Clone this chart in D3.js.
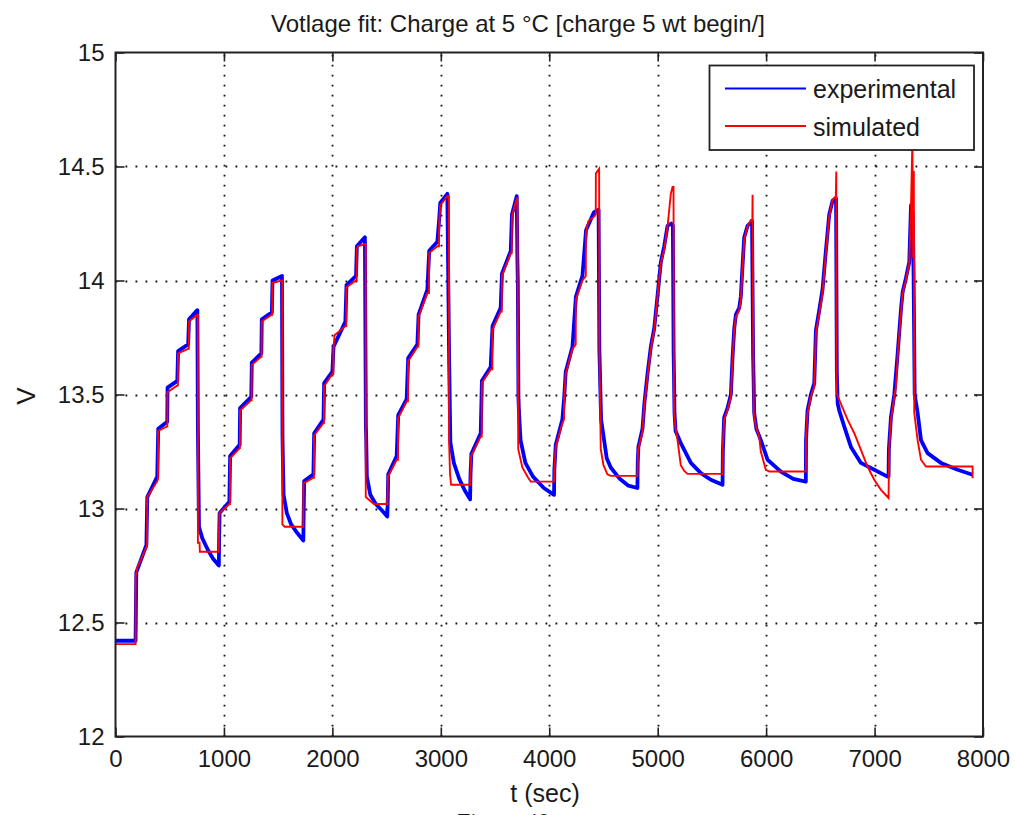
<!DOCTYPE html>
<html>
<head>
<meta charset="utf-8">
<script src="https://cdn.jsdelivr.net/npm/d3@7"></script>
<style>
  html, body { margin: 0; padding: 0; background: #fff; }
  svg { display: block; }
  text { font-family: "Liberation Sans", Arial, Helvetica, sans-serif; fill: #1a1a1a; }
</style>
</head>
<body>
<svg id="chart" width="1015" height="815"></svg>
<script>
// Battery voltage during ten charge pulses: measured vs. model output.
const titleText = "Votlage fit: Charge at 5 °C [charge 5 wt begin/]";
const xLabel = "t (sec)";
const yLabel = "V";
const seriesNames = ["experimental", "simulated"];
const seriesColors = ["#0000ff", "#ff0000"];
const xTicks = [0, 1000, 2000, 3000, 4000, 5000, 6000, 7000, 8000];
const yTicks = [12, 12.5, 13, 13.5, 14, 14.5, 15];

// Measured terminal voltage [t (s), V]
const experimental = [
  [0,12.42],[185,12.42],[188,12.55],[192,12.72],[285,12.84],[293,13.05],[385,13.14],[394,13.35],[477,13.38],[480,13.53],
  [570,13.56],[577,13.69],[670,13.72],[678,13.83],[755,13.87],[760,13.34],[763,13.21],[770,12.92],[800,12.87],[850,12.82],
  [900,12.78],[953,12.75],
  [956,12.88],[960,12.98],[1050,13.03],[1057,13.23],[1145,13.28],[1149,13.44],[1252,13.49],[1257,13.64],[1345,13.68],
  [1349,13.83],[1442,13.86],[1448,14.0],[1535,14.02],[1540,13.32],[1543,13.23],[1550,13.06],[1580,12.98],[1620,12.93],
  [1680,12.89],[1732,12.86],
  [1736,13.0],[1740,13.12],[1825,13.15],[1832,13.33],[1918,13.39],[1924,13.55],[2000,13.60],[2011,13.71],[2120,13.82],
  [2130,13.98],[2218,14.02],[2226,14.15],[2300,14.19],[2309,13.36],[2312,13.31],[2318,13.14],[2350,13.06],[2400,13.02],
  [2460,12.99],[2506,12.965],
  [2510,13.02],[2515,13.15],[2593,13.23],[2607,13.41],[2685,13.48],[2699,13.66],[2784,13.72],[2795,13.85],[2876,13.96],
  [2893,14.13],[2968,14.17],[2985,14.27],[2995,14.34],[3060,14.38],[3077,13.64],[3080,13.55],[3088,13.29],[3120,13.20],
  [3170,13.13],[3220,13.08],[3270,13.04],
  [3274,13.15],[3282,13.24],[3368,13.33],[3379,13.56],[3460,13.62],[3477,13.80],[3552,13.88],[3564,14.03],[3645,14.13],
  [3656,14.29],[3700,14.37],[3706,14.10],[3710,14.0],[3716,13.49],[3720,13.43],[3735,13.30],[3780,13.20],[3850,13.14],
  [3950,13.09],[4044,13.06],
  [4047,13.17],[4060,13.28],[4121,13.39],[4138,13.49],[4152,13.60],[4214,13.71],[4246,13.93],[4306,14.02],[4339,14.22],
  [4413,14.30],[4455,14.31],[4462,13.70],[4467,13.61],[4478,13.39],[4530,13.22],[4567,13.18],[4650,13.13],[4730,13.10],
  [4813,13.09],
  [4816,13.20],[4822,13.27],[4860,13.35],[4877,13.46],[4906,13.59],[4937,13.71],[4968,13.79],[5000,13.94],[5029,14.08],
  [5060,14.15],[5091,14.24],[5125,14.25],[5140,14.24],[5147,13.68],[5150,13.60],[5155,13.42],[5165,13.34],[5213,13.287],
  [5306,13.20],[5398,13.155],[5490,13.126],[5598,13.104],
  [5601,13.25],[5613,13.40],[5644,13.44],[5675,13.50],[5690,13.66],[5706,13.79],[5721,13.85],[5752,13.88],[5767,13.93],
  [5783,14.07],[5798,14.19],[5829,14.24],[5870,14.26],[5880,13.67],[5884,13.58],[5890,13.42],[5910,13.35],[5951,13.30],
  [6013,13.214],[6136,13.162],[6250,13.13],[6366,13.118],
  [6368,13.30],[6382,13.43],[6413,13.50],[6444,13.55],[6459,13.78],[6490,13.87],[6520,13.96],[6551,14.13],[6582,14.29],
  [6613,14.35],[6645,14.36],[6652,13.60],[6660,13.46],[6674,13.43],[6720,13.36],[6782,13.27],[6874,13.20],[6997,13.17],
  [7120,13.14],[7129,13.14],
  [7132,13.26],[7151,13.40],[7182,13.50],[7213,13.68],[7243,13.87],[7259,13.95],[7289,14.01],[7320,14.08],[7336,14.33],
  [7352,14.30],[7360,14.02],[7370,13.50],[7397,13.42],[7428,13.30],[7489,13.243],[7612,13.20],[7766,13.17],[7904,13.148]
];

// Model voltage [t (s), V]
const simulated = [
  [0,12.405],[185,12.405],[186,12.70],[200,12.74],[285,12.83],[291,12.84],[292,13.05],[385,13.12],[392,13.13],[393,13.34],
  [475,13.36],[478,13.36],[479,13.51],[570,13.54],[575,13.54],[576,13.68],[670,13.70],[676,13.70],[677,13.82],[755,13.85],
  [759,13.85],[760,12.85],[775,12.85],[778,12.81],[953,12.81],
  [958,12.98],[1050,13.02],[1055,13.02],[1056,13.22],[1145,13.265],[1147,13.265],[1148,13.43],[1250,13.475],[1255,13.475],
  [1256,13.63],[1342,13.665],[1347,13.665],[1348,13.82],[1440,13.85],[1446,13.85],[1447,13.99],[1535,14.0],[1538,14.0],
  [1539,12.93],[1560,12.92],[1732,12.92],
  [1733,13.11],[1825,13.135],[1830,13.135],[1831,13.32],[1918,13.375],[1922,13.375],[1923,13.535],[2000,13.59],[2009,13.59],
  [2010,13.70],[2020,13.76],[2120,13.80],[2128,13.80],[2129,13.97],[2218,14.0],[2224,14.0],[2225,14.135],[2235,14.15],
  [2300,14.16],[2307,14.16],[2308,13.05],[2383,13.02],[2506,13.02],
  [2513,13.14],[2593,13.214],[2605,13.214],[2606,13.396],[2685,13.47],[2697,13.47],[2698,13.645],[2784,13.71],[2793,13.71],
  [2794,13.84],[2876,13.945],[2891,13.945],[2892,14.12],[2968,14.15],[2983,14.15],[2985,14.25],[2995,14.33],[3060,14.37],
  [3075,14.37],[3076,13.30],[3085,13.15],[3095,13.104],[3270,13.104],
  [3280,13.23],[3368,13.316],[3377,13.316],[3378,13.55],[3460,13.61],[3475,13.61],[3476,13.784],[3552,13.864],[3562,13.864],
  [3563,14.02],[3645,14.12],[3654,14.12],[3655,14.28],[3700,14.36],[3706,14.36],[3708,14.03],[3714,13.26],[3752,13.18],
  [3799,13.14],[3829,13.118],[4044,13.118],
  [4050,13.20],[4060,13.27],[4121,13.375],[4136,13.39],[4137,13.48],[4152,13.59],[4214,13.70],[4244,13.72],[4245,13.915],
  [4306,14.0],[4337,14.02],[4338,14.21],[4360,14.26],[4413,14.28],[4429,14.29],[4430,14.47],[4460,14.49],[4462,13.70],
  [4475,13.26],[4500,13.19],[4536,13.15],[4567,13.143],[4813,13.143],
  [4819,13.257],[4860,13.338],[4875,13.447],[4906,13.58],[4937,13.70],[4968,13.784],[4998,13.93],[5029,14.076],[5060,14.135],
  [5091,14.237],[5121,14.38],[5137,14.41],[5146,14.41],[5150,13.42],[5165,13.35],[5183,13.30],[5213,13.19],[5245,13.165],
  [5275,13.152],[5598,13.152],
  [5600,13.27],[5613,13.39],[5644,13.433],[5675,13.49],[5690,13.652],[5706,13.784],[5721,13.84],[5752,13.87],[5767,13.915],
  [5783,14.06],[5798,14.18],[5829,14.237],[5859,14.266],[5873,14.27],[5875,14.376],[5878,14.02],[5882,13.65],[5886,13.42],
  [5905,13.36],[5936,13.316],[5951,13.25],[5997,13.17],[6030,13.162],[6366,13.162],
  [6368,13.316],[6382,13.418],[6413,13.49],[6444,13.535],[6459,13.77],[6490,13.857],[6520,13.945],[6551,14.12],[6582,14.28],
  [6613,14.354],[6643,14.37],[6647,14.478],[6649,13.506],[6689,13.46],[6751,13.39],[6813,13.33],[6874,13.257],[6935,13.184],
  [6997,13.126],[7059,13.082],[7129,13.046],
  [7135,13.27],[7151,13.39],[7182,13.49],[7197,13.535],[7213,13.667],[7243,13.857],[7259,13.945],[7289,14.0],[7320,14.076],
  [7336,14.32],[7349,14.62],[7356,14.10],[7362,14.48],[7366,13.42],[7397,13.30],[7428,13.214],[7474,13.184],[7904,13.184],
  [7904,13.133]
];

const svg = d3.select("#chart");
const plot = { left: 115.5, right: 983, top: 52.5, bottom: 736.5 };

const x = d3.scaleLinear().domain([0, 8000]).range([plot.left, plot.right]);
const y = d3.scaleLinear().domain([12, 15]).range([plot.bottom, plot.top]);

const FONT = 24;
const TICK = 9;

// dotted grid
const grid = svg.append("g").attr("stroke", "#111").attr("stroke-width", 1.8)
  .attr("stroke-dasharray", "1.8,8.2").attr("fill", "none");
grid.selectAll("line.gx").data(xTicks.slice(1, -1)).join("line")
  .attr("x1", d => Math.round(x(d)) + 0.5).attr("x2", d => Math.round(x(d)) + 0.5)
  .attr("y1", plot.bottom).attr("y2", plot.top);
grid.selectAll("line.gy").data(yTicks.slice(1, -1)).join("line")
  .attr("y1", d => Math.round(y(d)) + 0.5).attr("y2", d => Math.round(y(d)) + 0.5)
  .attr("x1", plot.left).attr("x2", plot.right);

// series
const line = d3.line().x(d => x(d[0])).y(d => y(d[1]));
svg.append("clipPath").attr("id", "plotclip").append("rect")
  .attr("x", plot.left).attr("y", plot.top)
  .attr("width", plot.right - plot.left).attr("height", plot.bottom - plot.top);

const series = svg.append("g").attr("clip-path", "url(#plotclip)");
series.append("path").datum(experimental)
  .attr("d", line).attr("fill", "none")
  .attr("stroke", seriesColors[0]).attr("stroke-width", 3.8).attr("stroke-linejoin", "round");
series.append("path").datum(simulated)
  .attr("d", line).attr("fill", "none")
  .attr("stroke", seriesColors[1]).attr("stroke-width", 1.9).attr("stroke-linejoin", "miter");

// axes (ticks point inward on all four sides)
const axisStyle = g => {
  g.select(".domain").remove();
  g.selectAll(".tick line").attr("stroke", "#222").attr("stroke-width", 1.6);
  g.selectAll(".tick text").attr("fill", "#1a1a1a").style("font-size", FONT + "px")
    .style("font-family", "'Liberation Sans', Arial, sans-serif");
};

svg.append("g").attr("transform", `translate(0,${plot.bottom})`)
  .call(d3.axisBottom(x).tickValues(xTicks).tickFormat(d3.format("d"))
    .tickSize(-TICK).tickSizeOuter(0).tickPadding(13))
  .call(axisStyle);
svg.append("g").attr("transform", `translate(0,${plot.top})`)
  .call(d3.axisTop(x).tickValues(xTicks).tickFormat("").tickSize(-TICK).tickSizeOuter(0))
  .call(axisStyle);
svg.append("g").attr("transform", `translate(${plot.left},0)`)
  .call(d3.axisLeft(y).tickValues(yTicks).tickFormat(d => d3.format("")(d))
    .tickSize(-TICK).tickSizeOuter(0).tickPadding(11))
  .call(axisStyle);
svg.append("g").attr("transform", `translate(${plot.right},0)`)
  .call(d3.axisRight(y).tickValues(yTicks).tickFormat("").tickSize(-TICK).tickSizeOuter(0))
  .call(axisStyle);

// frame
svg.append("rect")
  .attr("x", plot.left).attr("y", plot.top)
  .attr("width", plot.right - plot.left).attr("height", plot.bottom - plot.top)
  .attr("fill", "none").attr("stroke", "#222").attr("stroke-width", 2);

// title and axis labels
svg.append("text").attr("x", 518).attr("y", 31.5).attr("text-anchor", "middle")
  .style("font-size", FONT + "px").text(titleText);
svg.append("text").attr("x", 545).attr("y", 802).attr("text-anchor", "middle")
  .style("font-size", (FONT + 1) + "px").text(xLabel);
svg.append("text").attr("transform", "translate(35,396) rotate(-90)").attr("text-anchor", "middle")
  .style("font-size", (FONT + 2) + "px").text(yLabel);

// caption under the figure (runs off the bottom edge)
svg.append("text").attr("x", 457).attr("y", 829)
  .style("font-family", "'Liberation Serif', 'Times New Roman', serif")
  .style("font-size", "24px").text("Figure 40");

// legend
const lg = svg.append("g");
lg.append("rect").attr("x", 709.5).attr("y", 65.5).attr("width", 264.5).attr("height", 84.5)
  .attr("fill", "#fff").attr("stroke", "#222").attr("stroke-width", 1.8);
const legendRows = [88.5, 126];
seriesNames.forEach((name, i) => {
  lg.append("line").attr("x1", 725).attr("x2", 806)
    .attr("y1", legendRows[i]).attr("y2", legendRows[i])
    .attr("stroke", seriesColors[i]).attr("stroke-width", 1.8);
  lg.append("text").attr("x", 813).attr("y", legendRows[i] + 9.8)
    .style("font-size", (FONT + 1) + "px").text(name);
});
</script>
</body>
</html>
